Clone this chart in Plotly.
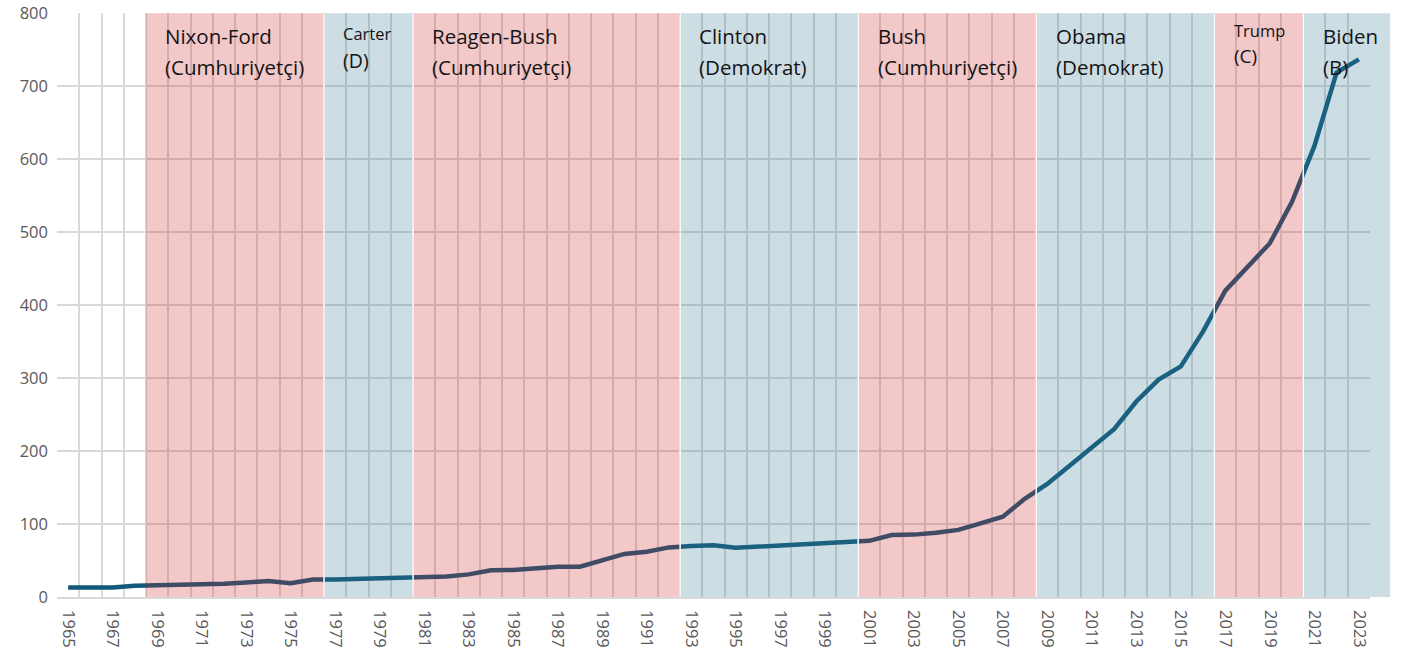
import plotly.graph_objects as go

years = list(range(1965, 2024))
values = [13, 13, 13, 15.5, 16, 16.5, 17, 18, 20, 22,
          19, 24, 24, 25, 26, 27.5, 27.5, 28, 31, 36.5,
          37, 39, 41.5, 41.5, 50, 59, 62, 68, 70, 71,
          67.5, 69, 71, 72, 74, 75.5, 77, 85, 85.5, 88,
          92, 101, 110, 135, 155, 180, 206, 230, 268, 298,
          316, 364, 420, 453, 485, 542, 618, 719, 737]

# presidencies: name line 1, line 2, first year, last year, party
pres_line1 = ["Nixon-Ford", "Carter", "Reagen-Bush", "Clinton", "Bush", "Obama", "Trump", "Biden"]
pres_line2 = ["(Cumhuriyetçi)", "(D)", "(Cumhuriyetçi)", "(Demokrat)", "(Cumhuriyetçi)", "(Demokrat)", "(C)", "(B)"]
pres_start = [1969, 1977, 1981, 1993, 2001, 2009, 2017, 2021]
pres_end = [1976, 1980, 1992, 2000, 2008, 2016, 2020, 2023]
pres_party = ["R", "D", "R", "D", "R", "D", "R", "D"]

x_ticks = list(range(1965, 2024, 2))
y_ticks = list(range(0, 900, 100))

PARTY_COLOR = {"R": "rgb(203,35,39)", "D": "rgb(51,119,147)"}
SHADE_OPACITY = 0.25
LINE_COLOR = "#12587a"
FONT = "Open Sans"
TEXT_COLOR = "#141414"

fig = go.Figure()
fig.add_trace(go.Scatter(x=years, y=values, mode="lines",
                         line=dict(color=LINE_COLOR, width=4.5),
                         showlegend=False, hoverinfo="x+y"))

x_lo = years[0] - 0.5
x_hi = years[-1] + 0.5
y_top = 800

shapes = []
for s, e, p in zip(pres_start, pres_end, pres_party):
    shapes.append(dict(type="rect", xref="x", yref="y", x0=s - 0.5, x1=e + 0.5,
                       y0=0, y1=y_top, fillcolor=PARTY_COLOR[p],
                       opacity=SHADE_OPACITY, line=dict(width=0), layer="above"))
# extension of last shaded band beyond the plot edge
ext_years = 0.9
shapes.append(dict(type="rect", xref="paper", yref="y", x0=1.0,
                   x1=1.0 + ext_years / (x_hi - x_lo), y0=0, y1=y_top,
                   fillcolor=PARTY_COLOR[pres_party[-1]], opacity=SHADE_OPACITY,
                   line=dict(width=0), layer="above"))
# thin white separators between adjacent bands
for s in pres_start[1:]:
    shapes.append(dict(type="line", xref="x", yref="y", x0=s - 0.5, x1=s - 0.5,
                       y0=0, y1=y_top, line=dict(color="white", width=1.5),
                       layer="above"))

annotations = []
for n1, n2, s in zip(pres_line1, pres_line2, pres_start):
    ax = s - 0.5 + 0.78
    if n1 == "Carter":
        y1, y2, f1, f2 = 772, 735, 16.5, 19.5
    elif n1 == "Trump":
        y1, y2, f1, f2 = 776, 741, 16.5, 19
    else:
        y1, y2, f1, f2 = 769, 727, 20.5, 20.5
    annotations.append(dict(x=ax, y=y1, xref="x", yref="y", text=n1, showarrow=False,
                            xanchor="left", yanchor="middle",
                            font=dict(family=FONT, size=f1, color=TEXT_COLOR)))
    annotations.append(dict(x=ax, y=y2, xref="x", yref="y", text=n2, showarrow=False,
                            xanchor="left", yanchor="middle",
                            font=dict(family=FONT, size=f2, color=TEXT_COLOR)))

fig.update_layout(
    width=1403, height=659,
    margin=dict(l=57, r=33, t=13, b=62),
    paper_bgcolor="white", plot_bgcolor="white",
    shapes=shapes, annotations=annotations,
    font=dict(family=FONT, color="#595959"),
    xaxis=dict(range=[x_lo, x_hi], tickmode="array", tickvals=x_ticks,
               ticktext=[str(t) for t in x_ticks], tickangle=90,
               tickfont=dict(size=16.5, color="#595959"),
               showgrid=False, zeroline=False, ticks="", automargin=False,
               showline=True, linecolor="#d9d9d9", linewidth=1.5,
               ticklabelstandoff=8, ticklabeloverflow="allow",
               minor=dict(dtick=1, tick0=0.5, showgrid=True,
                          gridcolor="#d9d9d9", gridwidth=1.5, ticks="")),
    yaxis=dict(range=[0, y_top + 0.5], tickmode="array", tickvals=y_ticks,
               ticktext=[str(t) for t in y_ticks],
               tickfont=dict(size=16.5, color="#595959"), automargin=False,
               showgrid=True, gridcolor="#d9d9d9", gridwidth=1.5,
               zeroline=False, ticks="", showline=False, ticklabelstandoff=8,
               ticklabeloverflow="allow"),
)

fig.write_html("out.html", config={"displayModeBar": False},
               post_script="document.body.style.margin='0';")
